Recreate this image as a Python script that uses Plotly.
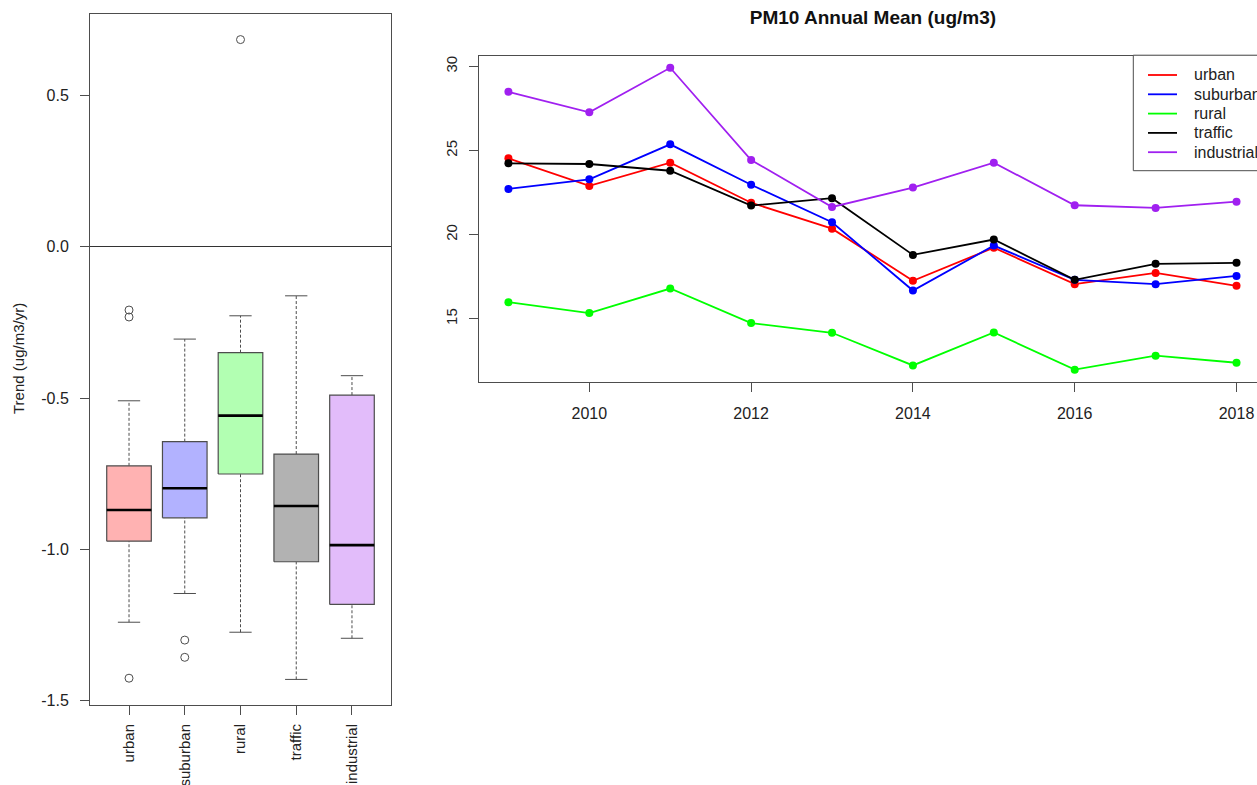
import plotly.graph_objects as go

# ---- Trend distribution per station type (ug/m3/yr) ----
station_types = ["urban", "suburban", "rural", "traffic", "industrial"]
box_fill = ["#FFB2B2", "#B2B2FF", "#B2FFB2", "#B2B2B2", "#E2BCFA"]
whisker_low = [-1.241, -1.146, -1.274, -1.430, -1.294]
q1 = [-0.973, -0.896, -0.751, -1.041, -1.182]
median = [-0.870, -0.798, -0.558, -0.857, -0.986]
q3 = [-0.724, -0.644, -0.350, -0.685, -0.490]
whisker_high = [-0.509, -0.305, -0.228, -0.162, -0.426]
outliers = {
    "urban": [-0.209, -0.232, -1.426],
    "suburban": [-1.300, -1.357],
    "rural": [0.685],
    "traffic": [],
    "industrial": [],
}
trend_tickvals = [-1.5, -1.0, -0.5, 0.0, 0.5]
trend_ticktext = ["-1.5", "-1.0", "-0.5", "0.0", "0.5"]

# ---- Annual mean PM10 by station type (ug/m3) ----
years = [2009, 2010, 2011, 2012, 2013, 2014, 2015, 2016, 2017, 2018]
annual_mean = {
    "urban":      [24.54, 22.90, 24.28, 21.90, 20.36, 17.26, 19.23, 17.06, 17.73, 16.96],
    "suburban":   [22.72, 23.29, 25.37, 22.97, 20.74, 16.68, 19.35, 17.32, 17.06, 17.55],
    "rural":      [15.99, 15.34, 16.80, 14.75, 14.17, 12.23, 14.19, 11.98, 12.81, 12.39],
    "traffic":    [24.24, 24.20, 23.80, 21.73, 22.17, 18.80, 19.71, 17.32, 18.27, 18.33],
    "industrial": [28.49, 27.27, 29.92, 24.44, 21.65, 22.80, 24.28, 21.75, 21.59, 21.96],
}
line_colors = ["#FF0000", "#0000FF", "#00FF00", "#000000", "#A020F0"]
year_ticks = [2010, 2012, 2014, 2016, 2018]
mean_ticks = [15, 20, 25, 30]

FONT = "Liberation Sans, Arial, Helvetica, sans-serif"
EDGE = "#4d4d4d"
W, H = 1257, 785

fig = go.Figure()

# Box plot drawn piece by piece: whiskers (dashed), caps, boxes, medians, outliers
half_box, half_cap = 0.4, 0.2
for i, name in enumerate(station_types):
    xc = i + 1
    for lo, hi in ((q3[i], whisker_high[i]), (whisker_low[i], q1[i])):
        fig.add_trace(go.Scatter(
            x=[xc, xc], y=[lo, hi], mode="lines", xaxis="x", yaxis="y",
            line=dict(color=EDGE, width=1, dash="3px,2px"),
            showlegend=False, hoverinfo="skip"))
    for v in (whisker_low[i], whisker_high[i]):
        fig.add_trace(go.Scatter(
            x=[xc - half_cap, xc + half_cap], y=[v, v], mode="lines",
            xaxis="x", yaxis="y", line=dict(color=EDGE, width=1),
            showlegend=False, hoverinfo="skip"))
    fig.add_trace(go.Scatter(
        x=[xc - half_box, xc + half_box, xc + half_box, xc - half_box, xc - half_box],
        y=[q1[i], q1[i], q3[i], q3[i], q1[i]],
        mode="lines", fill="toself", fillcolor=box_fill[i],
        line=dict(color=EDGE, width=1.2), xaxis="x", yaxis="y",
        showlegend=False, hoverinfo="skip"))
    fig.add_trace(go.Scatter(
        x=[xc - half_box, xc + half_box], y=[median[i], median[i]], mode="lines",
        line=dict(color="#000000", width=2.6), xaxis="x", yaxis="y",
        showlegend=False, hoverinfo="skip"))
    if outliers[name]:
        fig.add_trace(go.Scatter(
            x=[xc] * len(outliers[name]), y=outliers[name], mode="markers",
            marker=dict(symbol="circle-open", size=8, color=EDGE,
                        line=dict(width=1)),
            xaxis="x", yaxis="y", showlegend=False, hoverinfo="skip"))

# Annual mean lines
for name, color in zip(station_types, line_colors):
    fig.add_trace(go.Scatter(
        x=years, y=annual_mean[name], mode="lines+markers", name=name,
        line=dict(color=color, width=1.8), marker=dict(color=color, size=8),
        xaxis="x2", yaxis="y2", showlegend=False))

all_trend = whisker_low + whisker_high + [v for vals in outliers.values() for v in vals]
t_lo, t_hi = min(all_trend), max(all_trend)
t_pad = 0.04 * (t_hi - t_lo)

all_mean = [v for vals in annual_mean.values() for v in vals]
m_lo, m_hi = min(all_mean), max(all_mean)
m_pad = 0.04 * (m_hi - m_lo)
yr_pad = 0.04 * (years[-1] - years[0])

# Legend box anchored to the top-right corner of the line panel
shapes = []
annotations = []
leg_left, leg_top, leg_bottom = 1133.3, 55.2, 170.7
row0, row_step = 75.0, 19.3
shapes.append(dict(type="rect", xref="paper", yref="paper", layer="above",
                   x0=leg_left / W, x1=1.05, y0=1 - leg_bottom / H, y1=1 - leg_top / H,
                   line=dict(color=EDGE, width=1), fillcolor="white"))
for k, (name, color) in enumerate(zip(station_types, line_colors)):
    ry = 1 - (row0 + k * row_step) / H
    shapes.append(dict(type="line", xref="paper", yref="paper", layer="above",
                       x0=1148 / W, x1=1177 / W, y0=ry, y1=ry,
                       line=dict(color=color, width=1.8)))
    annotations.append(dict(text=name, x=1192 / W, y=ry, xref="paper", yref="paper",
                            xanchor="left", yanchor="middle", showarrow=False,
                            font=dict(family=FONT, size=16, color="#222")))

annotations.append(dict(text="Trend (ug/m3/yr)", x=18 / W, y=1 - 359 / H,
                        xref="paper", yref="paper", xanchor="center", yanchor="middle",
                        showarrow=False, textangle=-90,
                        font=dict(family=FONT, size=15, color="#222")))

axis_common = dict(showgrid=False, zeroline=False, showline=True, linecolor=EDGE,
                   linewidth=1, ticks="outside", ticklen=9, tickcolor=EDGE,
                   tickfont=dict(family=FONT, size=16, color="#222"),
                   automargin=False, fixedrange=True)

fig.update_layout(
    width=W, height=H, margin=dict(l=0, r=0, t=0, b=0),
    paper_bgcolor="white", plot_bgcolor="white", template="none",
    font=dict(family=FONT, size=16, color="#222"),
    showlegend=False,
    xaxis=dict(axis_common, domain=[90 / W, 391 / W], anchor="y",
               range=[0.3, len(station_types) + 0.7],
               tickvals=list(range(1, len(station_types) + 1)),
               ticktext=station_types, tickangle=-90, mirror=True,
               tickfont=dict(family=FONT, size=15, color="#222"),
               ticklabelstandoff=3),
    yaxis=dict(axis_common, domain=[1 - 705 / H, 1 - 14 / H], anchor="x",
               range=[t_lo - t_pad, t_hi + t_pad], tickvals=trend_tickvals,
               ticktext=trend_ticktext, mirror=True,
               zeroline=True, zerolinecolor="#333", zerolinewidth=1,
               ticklabelstandoff=8),
    xaxis2=dict(axis_common, domain=[479.3 / W, 1.0], anchor="y2",
                range=[years[0] - yr_pad, years[0] - yr_pad + (W - 479.3) / 80.9],
                tickvals=year_ticks, mirror=True, ticklabelstandoff=8),
    yaxis2=dict(axis_common, domain=[1 - 381.7 / H, 1 - 55.7 / H], anchor="x2",
                range=[m_lo - m_pad, m_hi + m_pad], tickvals=mean_ticks,
                tickangle=-90, tickfont=dict(family=FONT, size=15, color="#222"),
                ticklabelstandoff=6),
    title=dict(text="<b>PM10 Annual Mean (ug/m3)</b>", x=872.9 / W, xanchor="center",
               y=1 - 17 / H, yanchor="middle",
               font=dict(family=FONT, size=19, color="#111")),
    shapes=shapes,
    annotations=annotations,
)

fig.write_html("out.html")
